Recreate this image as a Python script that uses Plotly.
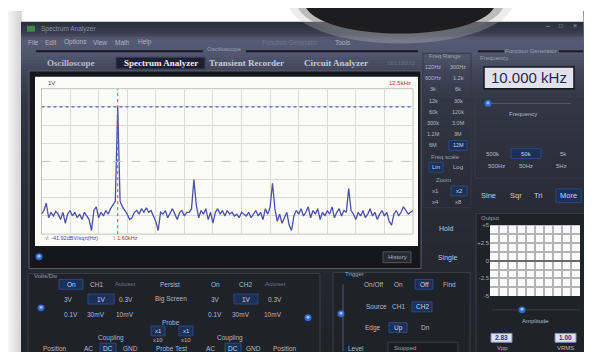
import plotly.graph_objects as go


# ==========================================================
# Data
# ==========================================================

FREQ_START_KHZ = 0.0
BIN_KHZ = 0.05

spectrum_dbv = [
    -101, -99, -95, -103, -100, -102, -99.5, -101, -104, -100,
    -106, -101, -99, -102, -100, -103, -101, -104, -100, -102,
    -104, -110, -99, -97, -103, -100, -102, -99, -101, -98,
    -96, -94, -42, -94, -97, -99, -101, -104, -103, -100,
    -99, -101, -98, -100, -97.5, -100, -99, -102, -105, -110,
    -100, -101, -99, -103, -100, -98, -101, -104, -100, -99,
    -102, -100, -100, -98, -82, -96, -103, -99, -101, -98,
    -104, -100, -106, -100, -98, -101, -99, -102, -99, -101,
    -100, -102, -101, -103, -100, -101, -102, -100, -103, -101,
    -99, -102, -100, -104, -98, -101, -97, -84, -98, -105,
    -101, -106, -103, -100, -107, -110, -102, -99, -101, -98,
    -102, -100, -97, -103, -99, -101, -98, -104, -100, -102,
    -99, -101, -97, -103, -100, -98, -102, -99, -100, -87,
    -99, -101, -104, -100, -102, -99, -103, -101, -98, -102,
    -100, -104, -101, -99, -102, -100, -105, -107, -101, -99,
    -102, -100, -97, -99, -101, -100, -99,
]

x_range_khz = [0, 7.8]
x_div_khz = 0.6
y_range_dbv = [-112, -32]
grid_dbv = [-42, -52, -62, -82, -92, -102]
center_dbv = -72
cursor_dbv = -42
cursor_khz = 1.60

output_ticks = [-5, -2.5, 0, 2.5, 5]
output_tick_text = ["-5", "-2.5", "0", "+2.5", "+5"]

freq_range_rows = [
    ["120Hz", "300Hz"], ["600Hz", "1.2k"], ["3k", "6k"], ["12k", "30k"],
    ["60k", "120k"], ["300k", "3.0M"], ["1.2M", "3M"], ["6M", "12M"],
]


# ==========================================================
# Drawing helpers (pixel coords, y from top)
# ==========================================================

W, H = 592, 352
SANS = "Liberation Sans, Arial, sans-serif"
SERIF = "Liberation Serif, Times New Roman, serif"
TXT = "#b4b8c6"
DIM = "#6c7288"

shapes = []
notes = []


def px(x):
    return x / W


def py(y):
    return 1 - y / H


def rect(x0, y0, x1, y1, fill, line=None, width=1):
    shapes.append(dict(
        type="rect", xref="paper", yref="paper",
        x0=px(x0), x1=px(x1), y0=py(y1), y1=py(y0),
        fillcolor=fill,
        line=dict(color=line or "rgba(0,0,0,0)", width=width if line else 0),
        layer="below",
    ))


def oval(x0, y0, x1, y1, fill, opacity=1.0):
    shapes.append(dict(
        type="circle", xref="paper", yref="paper",
        x0=px(x0), x1=px(x1), y0=py(y1), y1=py(y0),
        fillcolor=fill, opacity=opacity,
        line=dict(width=0), layer="below",
    ))


def poly(points, fill):
    path = "M " + " L ".join(f"{px(x):.5f},{py(y):.5f}" for x, y in points) + " Z"
    shapes.append(dict(
        type="path", xref="paper", yref="paper", path=path,
        fillcolor=fill, line=dict(width=0), layer="below",
    ))


def hline(x0, x1, y, color, width=1):
    shapes.append(dict(
        type="line", xref="paper", yref="paper",
        x0=px(x0), x1=px(x1), y0=py(y), y1=py(y),
        line=dict(color=color, width=width), layer="below",
    ))


def vline(x, y0, y1, color, width=1):
    shapes.append(dict(
        type="line", xref="paper", yref="paper",
        x0=px(x), x1=px(x), y0=py(y0), y1=py(y1),
        line=dict(color=color, width=width), layer="below",
    ))


def label(x, y, s, size=6.5, color=TXT, anchor="center", font=SANS):
    notes.append(dict(
        x=px(x), y=py(y), xref="paper", yref="paper",
        text=s, showarrow=False, xanchor=anchor, yanchor="middle",
        font=dict(size=size, color=color, family=font),
    ))


def button(x, y, s, w, on=False, size=6.5):
    if on:
        rect(x - w / 2, y - 5, x + w / 2, y + 5, "#1c2f55", "#2d4a82")
        label(x, y, s, size=size, color="#c4d6ff")
    else:
        label(x, y, s, size=size)


def knob(x, y):
    oval(x - 3.5, y - 3.5, x + 3.5, y + 3.5, "#2f6cd0")
    oval(x - 1.5, y - 2, x + 1.5, y + 1, "#9cc0ff")


def mix(c1, c2, t):
    a = [int(c1[i:i + 2], 16) for i in (1, 3, 5)]
    b = [int(c2[i:i + 2], 16) for i in (1, 3, 5)]
    return "#" + "".join(f"{round(a[i] + (b[i] - a[i]) * t):02x}" for i in range(3))


# ==========================================================
# Page background, window body
# ==========================================================

for i in range(13):
    rect(i, 0, i + 1.8, H, mix("#f6f6f6", "#d4d4d6", i / 12))

window_stops = [
    (11, "#2c303e"), (22, "#3a3f51"), (27, "#565c75"), (42, "#51576e"),
    (60, "#40455a"), (90, "#333744"), (180, "#2a2d37"), (352, "#1f2229"),
]
step = 3
for y in range(11, H, step):
    for (ya, ca), (yb, cb) in zip(window_stops, window_stops[1:]):
        if ya <= y <= yb:
            col = mix(ca, cb, (y - ya) / (yb - ya))
            break
    rect(13, y, 590, min(y + step + 1.5, H), col)

# right edge of the window, seen in perspective
poly([(575, 0), (579, 0), (589, 352), (585, 352)], "#8c8c92")
poly([(579, 0), (592, 0), (592, 352), (589, 352)], "#5c1b1c")

# blob over the top of the window
oval(280, -52, 505, 33, "#c4c4c4", 0.3)
oval(289, -45, 496, 28, "#707070", 0.4)
oval(297, -39, 487, 23, "#1d1d1f")

# title bar and menu
rect(19, 15, 27, 21, "#3c8a4a")
label(31, 18, "Spectrum Analyzer", 6.5, "#8a90a6", "left")
label(540, 15, "–", 7, "#a0a4b4")
label(553, 15, "□", 6.5, "#a0a4b4")
label(567, 15, "×", 7, "#a0a4b4")
for x, s in zip([25, 43, 67, 92, 115, 137], ["File", "Edit", "Options", "View", "Math", "Help"]):
    label(x, 32, s, 6.5, "#aeb2c4")
label(282, 32, "Function Generator", 6.5, "#707690")
label(335, 32, "Tools", 6.5, "#aeb2c4")

# section separators
hline(28, 195, 41, "#181b24", 2)
label(216, 39, "Oscilloscope", 6, "#9aa0b6")
hline(238, 410, 41, "#181b24", 2)
hline(470, 496, 41, "#181b24", 2)
label(523, 41, "Function Generator", 6, "#9aa0b6")
hline(551, 575, 41, "#181b24", 2)

# tabs
rect(108, 47, 197, 59, "#1c2030", "#39405a")
label(63, 53, "<b>Oscilloscope</b>", 9, "#b8bccb", font=SERIF)
label(153, 53, "<b>Spectrum Analyzer</b>", 9, "#eceef6", font=SERIF)
label(238, 53, "<b>Transient Recorder</b>", 9, "#c4c8d6", font=SERIF)
label(328, 53, "<b>Circuit Analyzer</b>", 9, "#c4c8d6", font=SERIF)
label(393, 53, "10110010", 7, DIM, font=SERIF)

# ==========================================================
# Spectrum panel
# ==========================================================

rect(21, 61, 413, 262, "#15171c", "#5c606c")
rect(27, 67, 410, 239, "#fbfbf7")
rect(33.5, 79, 405, 227, "#fbfbf7", "#c4c4bc")
label(38, 73, "1V", 6, "#404058", "left")
label(405, 73, "12.5kHz", 6, "#c83030", "right")
label(35, 231, "√: -41.92dBV/sqrt(Hz)", 5.5, "#3a48b0", "left")
label(103, 231, "↕ 1.60kHz", 5.5, "#c83030", "left")

knob(31, 250)
rect(375, 245, 403, 256, "#262930", "#50545e")
label(389, 250.5, "History", 6, "#b0b4c0")

# ==========================================================
# Volts/Div panel
# ==========================================================

rect(20, 267, 312, 356, "#1f2229", "#3a3e4a")
label(24, 270, "Volts/Div", 6, "#9aa0b4", "left")
button(63, 278, "On", 24, True)
label(88, 278, "CH1")
label(117, 278, "Autoset", 6, DIM)
label(162, 278, "Persist")
label(207, 278, "On")
label(237, 278, "CH2")
label(267, 278, "Autoset", 6, DIM)

label(60, 293, "3V")
button(93, 293, "1V", 26, True)
label(118, 293, "0.3V")
label(163, 293, "Big Screen")
label(207, 293, "3V")
button(238, 293, "1V", 24, True)
label(267, 293, "0.3V")

label(63, 309, "0.1V")
label(88, 309, "30mV")
label(117, 309, "10mV")
label(207, 309, "0.1V")
label(233, 309, "30mV")
label(265, 309, "10mV")

knob(33, 302)
knob(300, 312)

label(163, 317, "Probe")
button(150, 325.5, "x1", 14, True, 6)
button(178, 325.5, "x1", 14, True, 6)
label(150, 335, "x10", 6)
label(178, 335, "x10", 6)
label(103, 333, "Coupling")
label(222, 333, "Coupling")

label(47, 343, "Position")
label(80, 343, "AC")
button(100, 343, "DC", 16, True)
label(122, 343, "GND")
label(163, 343, "Probe Test")
label(202, 343, "AC")
button(225, 343, "DC", 16, True)
label(245, 343, "GND")
label(277, 343, "Position")

# ==========================================================
# Trigger panel
# ==========================================================

rect(325, 266, 462, 356, "#1f2229", "#3a3e4a")
label(335, 268, "Trigger", 6, "#9aa0b4", "left")
vline(335, 278, 346, "#3a3e4a", 2)
knob(333, 308)
label(365, 278, "On/Off")
label(390, 278, "On")
button(416, 278, "Off", 18, True)
label(441, 278, "Find")
label(368, 301, "Source")
label(390, 301, "CH1")
button(414, 301, "CH2", 20, True)
label(365, 322, "Edge")
button(390, 322, "Up", 18, True)
label(417, 322, "Dn")
label(348, 343, "Level")
rect(380, 337, 450, 348, "#1a1c22", "#383c46")
label(384, 342.5, "Stopped", 6, "#a0a4b4", "left")

# ==========================================================
# Freq range column
# ==========================================================

rect(415, 43, 463, 200, "rgba(0,0,0,0)", "#343846")
label(437, 46, "Freq Range", 6, "#9aa0b4")
for i, (a, b) in enumerate(freq_range_rows):
    y = 57 + i * 11.4
    label(425, y, a, 5.5)
    button(450, y, b, 18, i == len(freq_range_rows) - 1, 5.5)
label(437, 149, "Freq scale", 6, "#9aa0b4")
button(428, 159, "Lin", 14, True, 6)
label(450, 159, "Log", 6)
label(435, 172, "Zoom", 6, "#9aa0b4")
label(427, 183, "x1", 6)
button(451, 183, "x2", 16, True, 6)
label(427, 194, "x4", 6)
label(450, 194, "x8", 6)

label(438, 221, "Hold", 7, "#c0c4d2")
label(440, 251, "Single", 7, "#c0c4d2")

# ==========================================================
# Function generator
# ==========================================================

label(470, 48, "Frequency", 6, "#9aa0b4", "left")
rect(476, 57, 566, 79, "#e2e2ee", "#15161c", 1.5)
label(521, 68, "10.000 kHz", 15, "#1e2858")

rect(467, 87, 582, 170, "rgba(0,0,0,0)", "#383c4a")
hline(482, 563, 94, "#555a6a", 1)
knob(480, 94)
label(515, 105, "Frequency", 6)
label(485, 145, "500k", 6)
button(518, 145, "50k", 30, True, 6)
label(555, 145, "5k", 6)
label(488, 158, "500Hz", 6)
label(518, 158, "50Hz", 6)
label(553, 158, "5Hz", 6)

label(480, 188, "Sine", 7.5, "#c8ccda")
label(508, 188, "Sqr", 7.5, "#c8ccda")
label(530, 188, "Tri", 7.5, "#c8ccda")
rect(548, 181, 573, 195, "#1c2f55", "#2d4a82")
label(560, 188, "More", 7.5, "#c4d6ff")

# output panel
rect(468, 206, 585, 356, "#1f2229", "#3a3e4a")
label(471, 211, "Output", 6, "#9aa0b4", "left")
rect(482, 218, 572, 290, "#fbfbfb")
hline(484, 572, 304, "#3a3e4a", 1)
knob(514, 304)
label(527, 315, "Amplitude", 6)
rect(483, 328, 504, 337, "#dde0f0", "#7f8fc0")
label(493.5, 332.5, "<b>2.83</b>", 6.5, "#24348a")
label(494, 343, "Vpp", 6)
rect(547, 328, 568, 337, "#dde0f0", "#7f8fc0")
label(557.5, 332.5, "<b>1.00</b>", 6.5, "#24348a")
label(557, 343, "VRMS", 6)

# ==========================================================
# Figure
# ==========================================================

fig = go.Figure()

fig.add_trace(go.Scatter(
    x0=FREQ_START_KHZ, dx=BIN_KHZ, y=spectrum_dbv,
    mode="lines", line=dict(color="#4b50a8", width=1.3),
    hoverinfo="skip", xaxis="x", yaxis="y",
))

fig.add_trace(go.Scatter(x=[], y=[], xaxis="x2", yaxis="y2", hoverinfo="skip"))

# center dashed line and the two cursors
shapes.append(dict(type="line", xref="x", yref="y",
                   x0=x_range_khz[0], x1=x_range_khz[1], y0=center_dbv, y1=center_dbv,
                   line=dict(color="#c4c4bc", width=1, dash="dash"), layer="above"))
shapes.append(dict(type="line", xref="x", yref="y",
                   x0=x_range_khz[0], x1=x_range_khz[1], y0=cursor_dbv, y1=cursor_dbv,
                   line=dict(color="#5262c4", width=1.3, dash="dot"), layer="above"))
shapes.append(dict(type="line", xref="x", yref="y",
                   x0=cursor_khz, x1=cursor_khz, y0=y_range_dbv[0], y1=y_range_dbv[1],
                   line=dict(color="#d04848", width=1, dash="dot"), layer="above"))

fig.update_layout(
    width=W,
    height=H,
    margin=dict(l=0, r=0, t=0, b=0),
    paper_bgcolor="white",
    plot_bgcolor="rgba(0,0,0,0)",
    showlegend=False,
    shapes=shapes,
    annotations=notes,
    xaxis=dict(
        domain=[px(33.5), px(405)], range=x_range_khz,
        tick0=0, dtick=x_div_khz, showgrid=True, gridcolor="#dcdcd4",
        showticklabels=False, zeroline=False, ticks="", fixedrange=True,
    ),
    yaxis=dict(
        domain=[py(227), py(79)], range=y_range_dbv,
        tickvals=grid_dbv, showgrid=True, gridcolor="#dcdcd4",
        showticklabels=False, zeroline=False, ticks="", fixedrange=True,
    ),
    xaxis2=dict(
        domain=[px(482), px(572)], range=[0, 10], anchor="y2",
        dtick=1, showgrid=True, gridcolor="#b4b4b4", gridwidth=1.5,
        showticklabels=False, zeroline=False, ticks="",
    ),
    yaxis2=dict(
        domain=[py(290), py(218)], range=[-5, 5], anchor="x2",
        tickvals=output_ticks, ticktext=output_tick_text,
        showgrid=True, gridcolor="#b4b4b4", gridwidth=1.5,
        minor=dict(dtick=1.25, showgrid=True, gridcolor="#b4b4b4", gridwidth=1.5),
        zeroline=True, zerolinecolor="#6a6a6a", zerolinewidth=1.5,
        tickfont=dict(size=6, color="#a8acbc", family=SANS), ticks="",
    ),
)

fig.write_html("out.html")
